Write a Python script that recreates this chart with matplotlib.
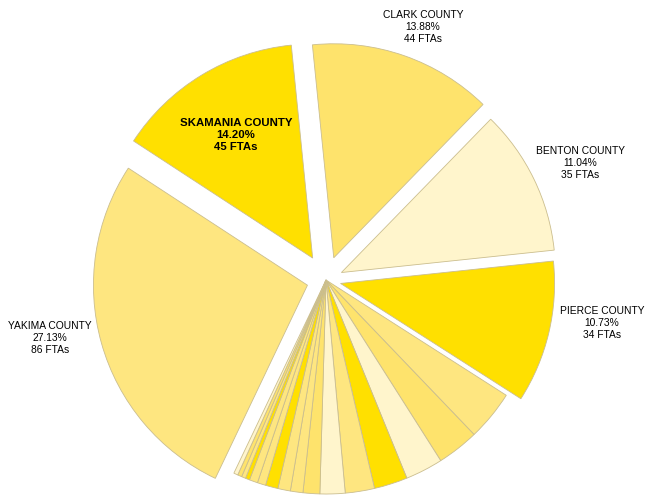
import matplotlib
matplotlib.use("Agg")
import matplotlib.pyplot as plt

plt.rcParams['font.family'] = ['Liberation Sans', 'DejaVu Sans']

# FTAs by county, largest first (drawn clockwise)
named_counties = ["YAKIMA COUNTY", "SKAMANIA COUNTY", "CLARK COUNTY", "BENTON COUNTY", "PIERCE COUNTY"]
named_ftas = [86, 45, 44, 35, 34]
other_ftas = [12, 10, 9, 8, 7, 6, 4, 3, 3, 3, 2, 2, 1, 1, 1, 1]

GOLD = "#FFE000"
LIGHT = "#FEE680"
MEDIUM = "#FEE36C"
CREAM = "#FFF5CC"
named_colors = [LIGHT, GOLD, MEDIUM, CREAM, GOLD]
other_colors = [LIGHT, MEDIUM, CREAM, GOLD, LIGHT, CREAM, MEDIUM, LIGHT, LIGHT, GOLD,
                LIGHT, LIGHT, GOLD, LIGHT, MEDIUM, CREAM]

values = named_ftas + other_ftas
colors = named_colors + other_colors
explode = [0.09, 0.12, 0.11, 0.08, 0.07] + [0.0] * len(other_ftas)
total = sum(values)

W, H = 647, 496
fig = plt.figure(figsize=(W / 100, H / 100), dpi=100)
ax = fig.add_axes([0, 0, 1, 1])

wedges, _ = ax.pie(values, colors=colors, explode=explode, startangle=244.5,
                   counterclock=False, radius=1.0,
                   wedgeprops=dict(edgecolor="#CBBE8E", linewidth=0.6))

# pie centre at (326, 280) px, radius 214 px
R = 214.0
cx, cy = 326.0, 280.0
ax.set_xlim(-cx / R, (W - cx) / R)
ax.set_ylim(-(H - cy) / R, cy / R)
ax.set_aspect('equal')
ax.axis('off')

label_px = {
    "YAKIMA COUNTY": (50, 338),
    "SKAMANIA COUNTY": (236, 135),
    "CLARK COUNTY": (423, 27),
    "BENTON COUNTY": (580, 163),
    "PIERCE COUNTY": (602, 323),
}
for name, n in zip(named_counties, named_ftas):
    px, py = label_px[name]
    txt = f"{name}\n{100 * n / total:.2f}%\n{n} FTAs"
    bold = name == "SKAMANIA COUNTY"
    ax.text((px - cx) / R, (cy - py) / R, txt, ha='center', va='center',
            fontsize=8.2 if bold else 7.4,
            fontweight='heavy' if bold else 'normal',
            color='black', linespacing=1.2 if bold else 1.25)

fig.savefig("out.png", dpi=100, facecolor='white')
